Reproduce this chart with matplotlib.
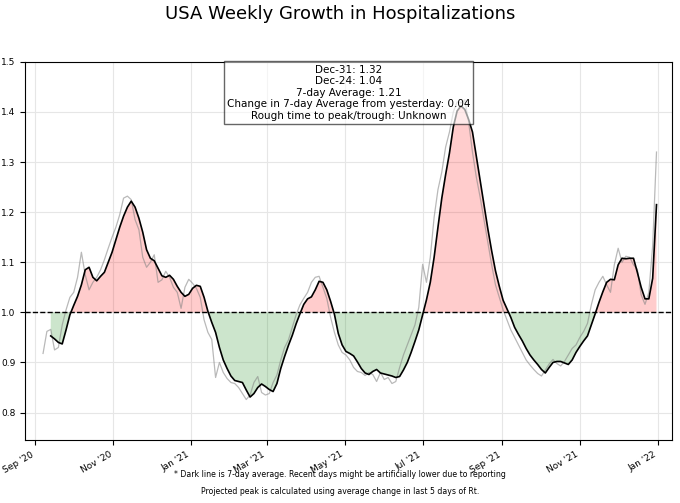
import numpy as np
import pandas as pd
import matplotlib
matplotlib.use("Agg")
import matplotlib.pyplot as plt
import matplotlib.dates as mdates

# raw daily ratio (sampled every 3 days), Sep 7 2020 -> Dec 31 2021
raw_start = "2020-09-07"
raw_vals = [
    0.918, 0.962, 0.966, 0.925, 0.930, 0.975, 1.005, 1.030, 1.040, 1.070,
    1.120, 1.075, 1.045, 1.060, 1.070, 1.085, 1.105, 1.128, 1.150, 1.170,
    1.195, 1.228, 1.232, 1.225, 1.185, 1.165, 1.110, 1.090, 1.100, 1.115,
    1.060, 1.065, 1.082, 1.070, 1.050, 1.040, 1.008, 1.050, 1.066, 1.058,
    1.048, 1.030, 0.985, 0.960, 0.946, 0.870, 0.900, 0.880, 0.868, 0.860,
    0.858, 0.850, 0.838, 0.826, 0.835, 0.860, 0.872, 0.840, 0.835, 0.838,
    0.860, 0.875, 0.905, 0.930, 0.945, 0.970, 0.995, 1.015, 1.028, 1.040,
    1.060, 1.070, 1.072, 1.050, 1.028, 0.990, 0.960, 0.935, 0.920, 0.915,
    0.905, 0.890, 0.882, 0.880, 0.874, 0.880, 0.876, 0.862, 0.880, 0.866,
    0.870, 0.858, 0.862, 0.890, 0.915, 0.935, 0.955, 0.975, 1.010, 1.096,
    1.060, 1.110, 1.190, 1.245, 1.280, 1.330, 1.360, 1.400, 1.420, 1.418,
    1.424, 1.380, 1.320, 1.270, 1.230, 1.185, 1.140, 1.095, 1.055, 1.030,
    1.005, 0.985, 0.965, 0.950, 0.935, 0.920, 0.905, 0.895, 0.886, 0.878,
    0.873, 0.885, 0.897, 0.906, 0.898, 0.893, 0.902, 0.915, 0.928, 0.935,
    0.950, 0.962, 0.978, 1.015, 1.045, 1.060, 1.072, 1.055, 1.040, 1.095,
    1.128, 1.100, 1.112, 1.110, 1.095, 1.086, 1.035, 1.016, 1.040, 1.133,
    1.320,
]

# 7-day average (sampled every 3 days), Sep 13 2020 -> Dec 31 2021
avg_start = "2020-09-13"
avg_vals = [
    0.953, 0.947, 0.940, 0.937, 0.965, 0.995, 1.014, 1.032, 1.055, 1.085,
    1.090, 1.070, 1.063, 1.072, 1.080, 1.100, 1.120, 1.145, 1.170, 1.192,
    1.210, 1.222, 1.210, 1.188, 1.160, 1.125, 1.108, 1.103, 1.088, 1.073,
    1.070, 1.074, 1.066, 1.052, 1.040, 1.032, 1.036, 1.048, 1.054, 1.052,
    1.030, 1.002, 0.980, 0.960, 0.930, 0.905, 0.888, 0.873, 0.864, 0.862,
    0.860, 0.845, 0.831, 0.838, 0.850, 0.857, 0.852, 0.846, 0.842, 0.858,
    0.888, 0.912, 0.934, 0.954, 0.977, 0.997, 1.016, 1.027, 1.031, 1.045,
    1.062, 1.060, 1.045, 1.022, 0.996, 0.958, 0.935, 0.922, 0.918, 0.913,
    0.901, 0.888, 0.879, 0.876, 0.882, 0.886, 0.879, 0.877, 0.875, 0.873,
    0.870, 0.872, 0.885, 0.900, 0.920, 0.942, 0.965, 0.995, 1.025, 1.060,
    1.110, 1.170, 1.228, 1.275, 1.318, 1.370, 1.402, 1.412, 1.405, 1.385,
    1.360, 1.312, 1.263, 1.215, 1.167, 1.123, 1.083, 1.052, 1.024, 1.007,
    0.990, 0.970, 0.956, 0.943, 0.928, 0.915, 0.905, 0.896, 0.886, 0.879,
    0.890, 0.900, 0.902, 0.902, 0.899, 0.896, 0.905, 0.920, 0.932, 0.943,
    0.953, 0.975, 0.997, 1.020, 1.041, 1.060, 1.066, 1.065, 1.095, 1.108,
    1.107, 1.108, 1.108, 1.080, 1.050, 1.027, 1.027, 1.068, 1.215,
]

info_lines = [
    "Dec-31: 1.32",
    "Dec-24: 1.04",
    "7-day Average: 1.21",
    "Change in 7-day Average from yesterday: 0.04",
    "Rough time to peak/trough: Unknown",
]
note1 = "* Dark line is 7-day average. Recent days might be artificially lower due to reporting"
note2 = "Projected peak is calculated using average change in last 5 days of Rt."

raw_dates = pd.date_range(raw_start, periods=len(raw_vals), freq="3D")
avg_dates = pd.date_range(avg_start, periods=len(avg_vals), freq="3D")
avg = np.array(avg_vals)

fig = plt.figure(figsize=(6.8, 5.03), dpi=100)
ax = fig.add_axes([0.037, 0.125, 0.951, 0.752])

ax.fill_between(avg_dates, avg, 1, where=avg >= 1, interpolate=True,
                color="red", alpha=0.2, lw=0)
ax.fill_between(avg_dates, avg, 1, where=avg <= 1, interpolate=True,
                color="green", alpha=0.2, lw=0)
ax.plot(raw_dates, raw_vals, color="grey", alpha=0.55, lw=0.9)
ax.plot(avg_dates, avg, color="black", lw=1.2)
ax.axhline(1.0, color="black", ls="--", lw=1.0)

# half-transparent info box on top of the curves
ax.text(0.5, 0.993, "\n".join(info_lines), transform=ax.transAxes,
        ha="center", va="top", fontsize=7.5, linespacing=1.2,
        bbox=dict(boxstyle="square,pad=0.3", facecolor="white", alpha=0.6),
        zorder=5)

ax.set_ylim(0.745, 1.5)
ax.set_xlim(pd.Timestamp("2020-08-24"), pd.Timestamp("2022-01-12"))
ax.xaxis.set_major_locator(mdates.MonthLocator(bymonth=[1, 3, 5, 7, 9, 11]))
ax.xaxis.set_major_formatter(mdates.DateFormatter("%b '%y"))
for lab in ax.get_xticklabels():
    lab.set_rotation(30)
    lab.set_ha("right")
ax.tick_params(labelsize=6.5)
ax.grid(True, color="#e6e6e6", lw=0.8)
ax.set_axisbelow(True)

fig.suptitle("USA Weekly Growth in Hospitalizations", fontsize=13, y=0.99)
fig.text(0.5, 0.052, note1, ha="center", fontsize=5.6)
fig.text(0.5, 0.018, note2, ha="center", fontsize=5.6)

fig.savefig("out.png")
